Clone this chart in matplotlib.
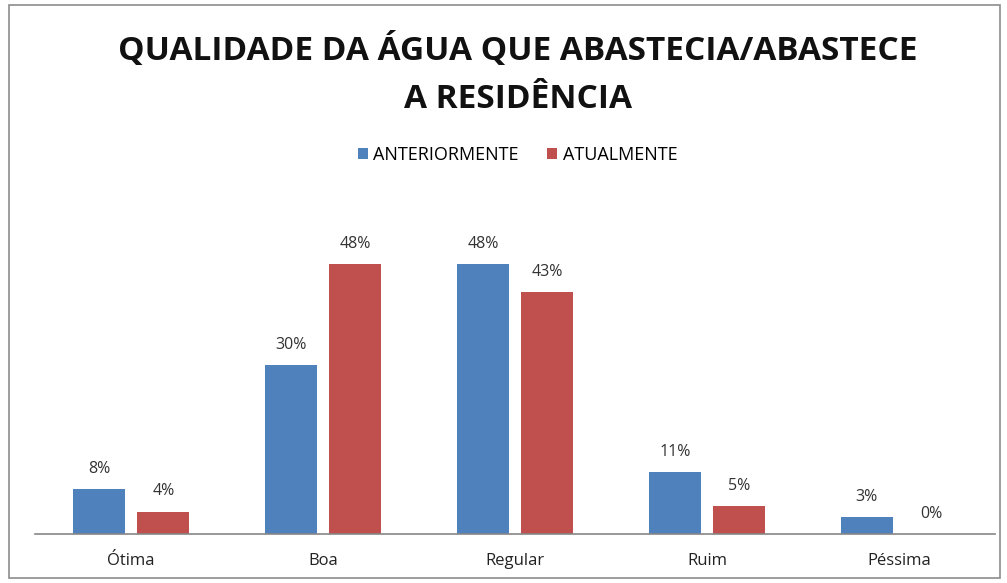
import matplotlib.pyplot as plt
import numpy as np
from matplotlib.patches import Rectangle

categorias = ['Ótima', 'Boa', 'Regular', 'Ruim', 'Péssima']
anteriormente = [8, 30, 48, 11, 3]
atualmente = [4, 48, 43, 5, 0]

azul = '#4F81BD'
vermelho = '#C0504D'

plt.rcParams['font.family'] = ['Open Sans', 'DejaVu Sans']

fig = plt.figure(figsize=(10.07, 5.83), dpi=100)
ax = fig.add_axes([0.035, 0.084, 0.953, 0.579])

x = np.arange(len(categorias))
w = 0.27
b1 = ax.bar(x - 0.167, anteriormente, w, color=azul, label='ANTERIORMENTE')
b2 = ax.bar(x + 0.167, atualmente, w, color=vermelho, label='ATUALMENTE')

for bars, vals in ((b1, anteriormente), (b2, atualmente)):
    for r, v in zip(bars, vals):
        ax.text(r.get_x() + r.get_width() / 2, v + 2.2, f'{v}%',
                ha='center', va='bottom', fontsize=11.5, color='#333333')

ax.set_xlim(-0.5, 4.5)
ax.set_ylim(0, 60)
ax.set_yticks([])
ax.set_xticks(x)
ax.set_xticklabels(categorias, fontsize=12, color='#222222')
ax.tick_params(axis='x', length=0, pad=14)
for s in ['top', 'right', 'left']:
    ax.spines[s].set_visible(False)
ax.spines['bottom'].set_color('#868686')
ax.spines['bottom'].set_linewidth(1.2)

fig.text(0.514, 0.872, 'QUALIDADE DA ÁGUA QUE ABASTECIA/ABASTECE\nA RESIDÊNCIA',
         ha='center', va='center', fontsize=24, fontweight='bold',
         linespacing=1.6, color='#111111')

fig.legend(handles=[b1, b2], loc='center', bbox_to_anchor=(0.514, 0.734),
           ncol=2, frameon=False, fontsize=13, handlelength=0.55,
           handleheight=0.55, handletextpad=0.3, columnspacing=1.6)

fig.patches.append(Rectangle((0.009, 0.009), 0.984, 0.982, transform=fig.transFigure,
                             fill=False, edgecolor='#8c8c8c', linewidth=1.2))

fig.savefig('out.png', dpi=100, facecolor='white')
